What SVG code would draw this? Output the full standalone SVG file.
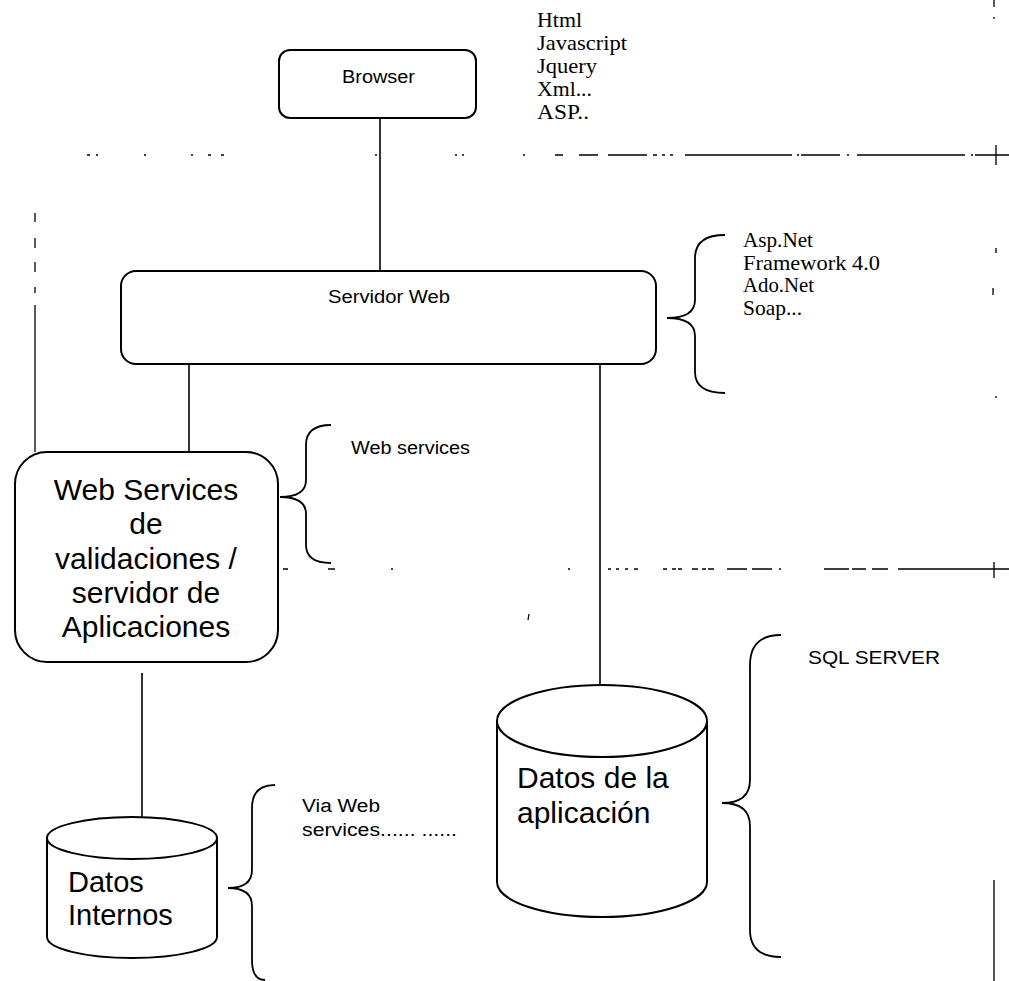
<svg xmlns="http://www.w3.org/2000/svg" width="1009" height="981" viewBox="0 0 1009 981">
<style>
.box{fill:#fff;stroke:#000;stroke-width:2}
.cyl{fill:#fff;stroke:#000;stroke-width:2}
.con{stroke:#000;stroke-width:1.6;fill:none}
.brace{stroke:#000;stroke-width:1.8;fill:none}
.dash{stroke:#000;stroke-width:1.3;fill:none}
.sans{font-family:"Liberation Sans",Arial,sans-serif;fill:#000}
.serif{font-family:"Liberation Serif","Times New Roman",serif;fill:#000}
.lbl{font-size:18px}
.big{font-size:30px}
.ser{font-size:21px}
</style>
<rect width="1009" height="981" fill="#fff"/>
<g id="separators">
<path class="dash" d="M87 155h3 M96 155h2 M144 155h2 M191 155h2 M208 155h3 M221 155h3 M375 155h2 M455 155h2 M462 155h2 M523 155h2 M555 155h8 M579 155h19 M608 155h39 M653 155h4 M662 155h3 M670 155h3 M685 155h107 M797 155h2 M801 155h39 M847 155h2 M857 155h108 M971 155h2 M975 155h34 M996 145V165"/>
<path class="dash" d="M283 569h5 M328 569h7 M391 569h2 M568 569h2 M608 569h3 M616 569h3 M625 569h3 M634 569h4 M663 569h4 M672 569h4 M678 569h4 M692 569h6 M702 569h4 M708 569h6 M727 569h20 M752 569h20 M779 569h2 M824 569h25 M852 569h14 M872 569h16 M898 569h111 M994 562V578"/>
<path class="dash" d="M35 213v9 M35 238v10 M35 262v10 M35 287v6 M35 305V452"/>
<path class="dash" d="M994 0V7 M994 17v2 M996 248v5 M993 288v7 M996 396v2 M994 880V981 M529 614l-1 6"/>
</g>
<g id="connectors">
<line class="con" x1="380" y1="118" x2="380" y2="271"/>
<line class="con" x1="189" y1="364" x2="189" y2="452"/>
<line class="con" x1="600" y1="364" x2="600" y2="686"/>
<line class="con" x1="142" y1="673" x2="142" y2="817"/>
</g>
<g id="browser">
<rect class="box" x="279" y="50" width="197" height="68" rx="11"/>
<text class="sans lbl" x="342" y="83" textLength="73" lengthAdjust="spacingAndGlyphs">Browser</text>
</g>
<g id="browser-tech">
<text class="serif ser" x="537" y="27" textLength="45" lengthAdjust="spacingAndGlyphs">Html</text>
<text class="serif ser" x="537" y="50" textLength="90" lengthAdjust="spacingAndGlyphs">Javascript</text>
<text class="serif ser" x="537" y="73" textLength="60" lengthAdjust="spacingAndGlyphs">Jquery</text>
<text class="serif ser" x="537" y="96" textLength="55" lengthAdjust="spacingAndGlyphs">Xml...</text>
<text class="serif ser" x="537" y="119" textLength="52" lengthAdjust="spacingAndGlyphs">ASP..</text>
</g>
<g id="servidor-web">
<rect class="box" x="121" y="271" width="535" height="93" rx="15"/>
<text class="sans lbl" x="328" y="303" textLength="122" lengthAdjust="spacingAndGlyphs">Servidor Web</text>
</g>
<g id="servidor-tech">
<path class="brace" d="M725 235 Q695 235 695 258 L695 300 Q695 318 667 318 Q695 318 695 336 L695 372 Q695 393 725 393"/>
<text class="serif ser" x="743" y="247" textLength="70" lengthAdjust="spacingAndGlyphs">Asp.Net</text>
<text class="serif ser" x="743" y="270" textLength="137" lengthAdjust="spacingAndGlyphs">Framework 4.0</text>
<text class="serif ser" x="743" y="292" textLength="71" lengthAdjust="spacingAndGlyphs">Ado.Net</text>
<text class="serif ser" x="743" y="315" textLength="59" lengthAdjust="spacingAndGlyphs">Soap...</text>
</g>
<g id="web-services">
<rect class="box" x="15" y="452" width="263" height="210" rx="32"/>
<g class="sans big" text-anchor="middle">
<text x="146" y="500">Web Services</text>
<text x="146" y="534">de</text>
<text x="146" y="569">validaciones /</text>
<text x="146" y="603">servidor de</text>
<text x="146" y="637">Aplicaciones</text>
</g>
</g>
<g id="web-services-label">
<path class="brace" d="M331 425 Q306 425 306 445 L306 480 Q306 497 280 497 Q306 497 306 514 L306 545 Q306 563 331 563"/>
<text class="sans lbl" x="351" y="454" textLength="119" lengthAdjust="spacingAndGlyphs">Web services</text>
</g>
<g id="datos-aplicacion">
<path class="cyl" d="M497 721 L497 882 A105 35 0 0 0 707 882 L707 721"/>
<ellipse class="cyl" cx="602" cy="721" rx="105" ry="36"/>
<text class="sans big" x="517" y="788">Datos de la</text>
<text class="sans big" x="517" y="823">aplicación</text>
</g>
<g id="sql-server">
<path class="brace" d="M781 635 Q750 635 750 665 L750 780 Q750 803 722 803 Q750 803 750 826 L750 930 Q750 957 781 957"/>
<text class="sans lbl" x="808" y="664" textLength="132" lengthAdjust="spacingAndGlyphs">SQL SERVER</text>
</g>
<g id="datos-internos">
<path class="cyl" d="M47 838 L47 937 A85 21 0 0 0 217 937 L217 838"/>
<ellipse class="cyl" cx="132" cy="838" rx="85" ry="21"/>
<text class="sans" font-size="29" x="68" y="892">Datos</text>
<text class="sans" font-size="29" x="68" y="925">Internos</text>
</g>
<g id="via-web">
<path class="brace" d="M275 785 Q252 785 252 808 L252 870 Q252 888 228 888 Q252 888 252 906 L252 960 Q252 980 265 980"/>
<text class="sans lbl" x="302" y="812" textLength="78" lengthAdjust="spacingAndGlyphs">Via Web</text>
<text class="sans lbl" x="302" y="836" textLength="155" lengthAdjust="spacingAndGlyphs">services...... ......</text>
</g>
</svg>
